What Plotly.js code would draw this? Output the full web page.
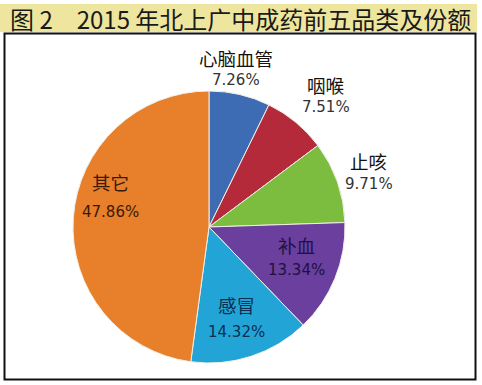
<!DOCTYPE html>
<html>
<head>
<meta charset="utf-8">
<script src="https://cdn.plot.ly/plotly-3.0.1.min.js"></script>
<style>
html,body{margin:0;padding:0;background:#fff;}
#chart{width:482px;height:385px;}
</style>
</head>
<body>
<div id="chart"></div>
<script>
// ---- data ----
const categories = ["心脑血管", "咽喉", "止咳", "补血", "感冒", "其它"];
const shares = [7.26, 7.51, 9.71, 13.34, 14.32, 47.86];
const titleText = "图 2　2015 年北上广中成药前五品类及份额";

// ---- style ----
const colors = ["#3d6cb4", "#b42a3b", "#7cbd3f", "#6a3f9e", "#22a5d6", "#e77f2b"];
const labelColors = ["#111", "#111", "#111", "#1c1240", "#0b2f52", "#3a1a08"];
const labelRadius = [1.18, 1.29, 1.24, 0.68, 0.70, 0.76];
const labelAngleOffset = [-3.5, 2, 0.5, -3, 1.5, 13];
const lineGap = [22.5, 22.5, 23, 25, 27, 30];

const W = 482, H = 385;
const cx = 209, cy = 227, R = 136;

const total = shares.reduce((a, b) => a + b, 0);
let cum = 0;
const annotations = [];
shares.forEach((v, i) => {
  const mid = (cum + v / 2) / total * 360 + labelAngleOffset[i];
  cum += v;
  const rad = mid * Math.PI / 180;
  const px = cx + Math.sin(rad) * R * labelRadius[i];
  const py = cy - Math.cos(rad) * R * labelRadius[i];
  annotations.push({
    xref: "paper", yref: "paper",
    x: px / W, y: 1 - py / H,
    xanchor: "center", yanchor: "middle",
    yshift: lineGap[i] / 2,
    showarrow: false,
    borderpad: 0,
    text: categories[i],
    font: {family: "Noto Sans CJK SC, sans-serif", size: 18.5, color: labelColors[i]}
  });
  annotations.push({
    xref: "paper", yref: "paper",
    x: px / W, y: 1 - py / H,
    xanchor: "center", yanchor: "middle",
    yshift: -lineGap[i] / 2,
    showarrow: false,
    borderpad: 0,
    text: v.toFixed(2) + "%",
    font: {family: "DejaVu Sans, sans-serif", size: 15, color: labelColors[i] === "#111" ? "#333" : labelColors[i]}
  });
});

annotations.push({
  xref: "paper", yref: "paper",
  x: 8 / W, y: 1 - 18 / H,
  xanchor: "left", yanchor: "middle",
  showarrow: false,
  text: titleText,
  font: {family: "Noto Sans CJK SC, sans-serif", size: 24, color: "#1a1a1a"}
});

const trace = {
  type: "pie",
  labels: categories,
  values: shares,
  sort: false,
  direction: "clockwise",
  rotation: 0,
  textinfo: "none",
  hoverinfo: "label+percent",
  marker: {colors: colors, line: {color: "#f3efe6", width: 1}},
  domain: {x: [(cx - R) / W, (cx + R) / W], y: [(H - cy - R) / H, (H - cy + R) / H]},
  showlegend: false
};

const layout = {
  width: W, height: H,
  margin: {l: 0, r: 0, t: 0, b: 0},
  paper_bgcolor: "#ffffff",
  showlegend: false,
  shapes: [
    {type: "rect", xref: "paper", yref: "paper", x0: 0, x1: 477 / W, y0: 1 - 32 / H, y1: 1 - 4 / H,
     fillcolor: "#eee69e", line: {width: 0}, layer: "below"},
    {type: "rect", xref: "paper", yref: "paper", x0: 4.5 / W, x1: 475.5 / W, y0: 1 - 379.5 / H, y1: 1 - 33.5 / H,
     fillcolor: "rgba(0,0,0,0)", line: {color: "#111", width: 2}, layer: "below"}
  ],
  annotations: annotations
};

Plotly.newPlot("chart", [trace], layout, {displayModeBar: false, staticPlot: true});
</script>
</body>
</html>
